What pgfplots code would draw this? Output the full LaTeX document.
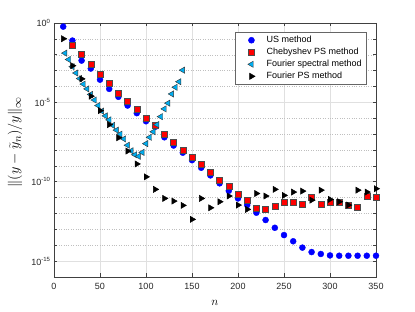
\documentclass[border=0pt]{standalone}
\usepackage{fontspec}
\setmainfont{Liberation Sans}
\usepackage{pgfplots}
\pgfplotsset{compat=1.18}

\begin{document}
\begin{tikzpicture}
\useasboundingbox (-54pt,-35pt) rectangle (361pt,277pt);
\begin{axis}[
  at={(0,0)}, anchor=south west,
  scale only axis, width=322pt, height=254pt,
  xmin=0, xmax=350, ymin=1e-16, ymax=1,
  ymode=log,
  xtick={0,50,...,350},
  ytick={1e-15,1e-10,1e-5,1},
  yticklabels={10\textsuperscript{-15},10\textsuperscript{-10},10\textsuperscript{-5},10\textsuperscript{0}},
  minor ytick={1e-16,1e-14,1e-13,1e-12,1e-11,1e-9,1e-8,1e-7,1e-6,1e-4,1e-3,1e-2,1e-1},
  grid=both,
  major grid style={black!12, line width=0.5pt},
  minor grid style={black!25, dotted, line width=0.4pt},
  tick align=inside,
  major tick length=3.5pt, minor tick length=3pt,
  axis line style={black!75, line width=0.5pt},
  every tick/.style={black!75, line width=0.5pt},
  /pgf/number format/assume math mode=true,
  tick label style={font=\fontsize{9}{10}\selectfont, text=black!85},
  xticklabel style={yshift=-3pt},
  xlabel={$n$},
  xlabel style={at={(axis description cs:0.5,-0.102)}, anchor=center, font=\fontsize{13}{15}\selectfont},
  ylabel={$\|(y-\widetilde{y}_n)/y\|_\infty$},
  ylabel style={at={(axis description cs:-0.121,0.53)}, anchor=center, font=\fontsize{15}{17}\selectfont},
  legend cell align=left,
  legend style={at={(axis description cs:0.972,0.9646)}, anchor=north east,
    draw=black!60, line width=0.5pt, font=\fontsize{9}{10}\selectfont, row sep=0pt},
  legend image code/.code={\path (0pt,0pt) (26pt,0pt); \draw[#1] plot coordinates {(13pt,0pt)};},
]
\addplot[only marks, mark=*, mark size=3pt, draw=blue, fill=blue] coordinates {
(10,5.9e-1) (20,7.8e-2) (30,4.27e-3) (40,1.35e-3) (50,2.69e-4) (60,7.08e-5) (70,2.24e-5)
(80,6.31e-6) (90,2.09e-6) (100,6.46e-7) (110,2.88e-7) (120,6.31e-8) (130,1.91e-8) (140,6.76e-9)
(150,2.29e-9) (160,7.59e-10) (170,2.51e-10) (180,7.94e-11) (190,2.69e-11) (200,8.91e-12)
(210,3.39e-12) (220,1.12e-12) (230,3.89e-13) (240,1.26e-13) (250,4.37e-14) (260,1.78e-14)
(270,7.08e-15) (280,3.72e-15) (290,2.82e-15) (300,2.29e-15) (310,2.19e-15) (320,2.19e-15)
(330,2.19e-15) (340,2.19e-15) (350,2.19e-15)
};
\addlegendentry{US method}
\addplot[only marks, mark=square*, mark size=3pt, draw=black!70, fill=red, line width=0.5pt] coordinates {
(20,3.89e-2) (30,1.02e-2) (40,2.63e-3) (50,5.62e-4) (60,1.51e-4) (70,3.98e-5) (80,1.17e-5)
(90,3.55e-6) (100,1.05e-6) (110,3.47e-7) (120,1.05e-7) (130,3.09e-8) (140,1.0e-8) (150,3.72e-9)
(160,1.23e-9) (170,3.98e-10) (180,1.26e-10) (190,4.90e-11) (200,1.58e-11) (210,6.92e-12)
(220,2.19e-12) (230,1.74e-12) (240,2.69e-12) (250,4.79e-12) (260,4.79e-12) (270,3.72e-12)
(280,1.0e-11) (290,3.72e-12) (300,4.79e-12) (310,5.25e-12) (320,3.39e-12) (330,2.51e-12)
(340,1.26e-11) (350,1.0e-11)
};
\addlegendentry{Chebyshev PS method}
\addplot[only marks, mark=triangle*, mark size=3.6pt, mark options={rotate=90}, draw=black!80, fill=cyan, line width=0.4pt] coordinates {
(12,1.26e-2) (16,5.01e-3) (20,1.78e-3) (24,7.08e-4) (28,3.16e-4) (32,1.41e-4) (36,7.08e-5)
(40,3.16e-5) (44,1.41e-5) (48,6.31e-6) (52,2.82e-6) (56,1.41e-6) (60,7.94e-7) (64,3.55e-7)
(68,1.78e-7) (72,1.0e-7) (76,5.01e-8) (80,2.0e-8) (84,8.91e-9) (88,5.01e-9) (92,3.98e-9)
(96,7.08e-9) (100,2.51e-8) (104,6.31e-8) (108,1.41e-7) (112,3.98e-7) (116,1.26e-6)
(120,3.89e-6) (124,8.91e-6) (128,3.39e-5) (132,8.91e-5) (136,2.0e-4) (140,1.07e-3)
};
\addlegendentry{Fourier spectral method}
\addplot[only marks, mark=triangle*, mark size=3.6pt, mark options={rotate=-90}, draw=black, fill=black] coordinates {
(10,1.02e-1) (20,2.04e-3) (30,3.02e-4) (40,2.45e-5) (50,3.02e-6) (60,3.98e-7) (70,5.89e-8)
(80,8.51e-9) (90,1.32e-9) (100,2.04e-10) (110,3.31e-11) (120,8.91e-12) (130,6.03e-12)
(140,3.24e-12) (150,4.27e-13) (160,8.91e-12) (170,2.29e-12) (180,5.50e-12) (190,1.26e-11)
(200,3.39e-12) (210,1.82e-12) (220,1.82e-11) (230,1.26e-11) (240,3.31e-11) (250,1.38e-11)
(260,2.24e-11) (270,2.57e-11) (280,6.92e-12) (290,2.95e-11) (300,7.76e-12) (310,5.50e-12)
(320,3.39e-12) (330,2.95e-11) (340,2.24e-11) (350,3.63e-11)
};
\addlegendentry{Fourier PS method}
\end{axis}
\end{tikzpicture}
\end{document}
